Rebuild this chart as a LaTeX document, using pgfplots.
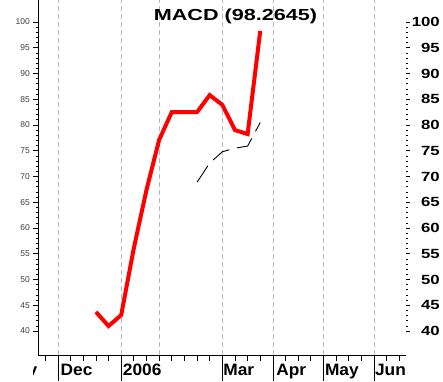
\documentclass[border=0pt]{standalone}
\usepackage{fontspec}
\setmainfont{Liberation Sans}
\newfontfamily\labfont[FakeStretch=1.05]{Liberation Sans Bold}
\newfontfamily\rfont[FakeStretch=1.26]{Liberation Sans Bold}
\newfontfamily\tfont[FakeStretch=1.35]{Liberation Sans Bold}
\usepackage{pgfplots}
\usepackage{pgfplotstable}
\pgfplotsset{compat=1.18}

\pgfplotstableread{
x y
3 43.7
4 40.97
5 43.1
6 56.1
7 67.4
8 77.1
9 82.5
10 82.5
11 82.5
12 85.8
13 83.9
14 79.0
15 78.25
16 98.2645
}\macd

\pgfplotstableread{
x y
11 68.9
12 72.6
13 74.8
14 75.5
15 75.9
16 80.5
}\signal

\pgfplotsset{
  common/.style={
    at={(38pt,26pt)}, anchor=south west,
    scale only axis, width=367.5pt, height=355pt,
    xmin=-1.582, xmax=27.49, ymin=35.34, ymax=104.27,
    /pgf/number format/assume math mode=true,
  }
}

\begin{document}
\begin{tikzpicture}
% main axis: data, grid, left y axis
\begin{axis}[common,
  axis lines*=left,
  axis line style={black, line width=0.8pt},
  xtick={0,5,8,13,17,21,25}, xticklabels={},
  xmajorgrids,
  major grid style={black!28, line width=0.8pt, dash pattern=on 5pt off 3pt},
  xtick style={draw=none},
  ytick={40,45,...,100}, minor y tick num=4,
  tick align=outside, major tick length=5pt, minor tick length=2.3pt,
  ytick style={black, line width=0.7pt},
  yticklabel style={font=\fontsize{8.5}{9}\selectfont, text=black!75, inner sep=0pt, xshift=-3pt},
]
\addplot[red, line width=4pt, line join=miter] table[x=x,y=y] {\macd};
\addplot[black, line width=0.9pt, dash pattern=on 19.5pt off 8pt] table[x=x,y=y] {\signal};
\end{axis}

% bottom ticks and month separators
\begin{axis}[common,
  hide y axis,
  axis x line*=bottom,
  x axis line style={draw=none},
  xtick={0,5,13,17,21,25}, xticklabels={},
  minor xtick={-1,0,...,27},
  tick align=outside, major tick length=26pt, minor tick length=6pt,
  xtick style={black, line width=0.8pt},
  clip=false,
]
\node[anchor=base west, inner sep=0pt, xshift=2.5pt, yshift=-20pt, font=\labfont\fontsize{16.5}{17}\selectfont] at (axis cs:0,35.34) {Dec};
\node[anchor=base west, inner sep=0pt, xshift=1.5pt, yshift=-20pt, font=\labfont\fontsize{16.5}{17}\selectfont] at (axis cs:5,35.34) {2006};
\node[anchor=base west, inner sep=0pt, xshift=0.8pt, yshift=-20pt, font=\labfont\fontsize{16.5}{17}\selectfont] at (axis cs:13,35.34) {Mar};
\node[anchor=base west, inner sep=0pt, xshift=3.3pt, yshift=-20pt, font=\labfont\fontsize{16.5}{17}\selectfont] at (axis cs:17,35.34) {Apr};
\node[anchor=base west, inner sep=0pt, xshift=1.4pt, yshift=-20pt, font=\labfont\fontsize{16.5}{17}\selectfont] at (axis cs:21,35.34) {May};
\node[anchor=base west, inner sep=0pt, xshift=0.8pt, yshift=-20pt, font=\labfont\fontsize{16.5}{17}\selectfont] at (axis cs:25,35.34) {Jun};
\end{axis}

% right y axis
\begin{axis}[common,
  hide x axis,
  axis y line*=right,
  y axis line style={draw=none},
  ytick={40,45,...,100}, minor y tick num=4,
  tick align=outside, major tick length=4.5pt, minor tick length=2pt,
  ytick style={black, line width=0.7pt},
  yticklabel style={font=\rfont\fontsize{13.3}{14}\selectfont, anchor=east, inner sep=0pt, xshift=30pt},
]
\end{axis}

% clipped label remnant at far left
\begin{scope}
\clip (33pt,0pt) rectangle (38pt,20pt);
\node[anchor=base east, inner sep=0pt, font=\labfont\fontsize{16.5}{17}\selectfont] at (37.5pt,6pt) {Nov};
\end{scope}

% title
\node[anchor=base, inner sep=0pt, font=\tfont\fontsize{16}{17}\selectfont] at (235.5pt,360.3pt) {MACD (98.2645)};

\pgfresetboundingbox
\useasboundingbox (0,0) rectangle (443pt,381pt);
\end{tikzpicture}
\end{document}
